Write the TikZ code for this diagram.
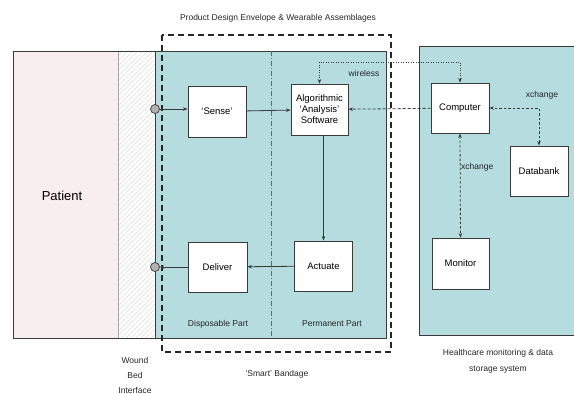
\documentclass[tikz,border=0pt]{standalone}
\usepackage{fontspec}
\setmainfont{Liberation Sans}
\usetikzlibrary{arrows.meta}
\definecolor{teal1}{HTML}{B5DCDF}
\definecolor{pink1}{HTML}{F8EDEF}
\definecolor{edge}{HTML}{3A3A3A}
\tikzset{
  box/.style={draw=edge, line width=0.9pt, fill=white, inner sep=0pt, align=center, font=\fontsize{9.5}{11}\selectfont},
  arr/.style={-{Stealth[length=4.5pt,width=3.5pt]}, line width=0.8pt, draw=edge},
  darr/.style={{Stealth[length=4.5pt,width=3.5pt]}-{Stealth[length=4.5pt,width=3.5pt]}, line width=0.8pt, draw=edge, dash pattern=on 2.5pt off 2pt},
  warr/.style={{Stealth[length=4.5pt,width=3.5pt]}-{Stealth[length=4.5pt,width=3.5pt]}, line width=0.8pt, draw=edge, dash pattern=on 1.2pt off 1.3pt},
  lbl/.style={font=\fontsize{8.5}{10}\selectfont, text=black!85, inner sep=1pt},
  port/.style={circle, draw=edge, fill=gray!60, minimum size=9pt, inner sep=0pt, line width=0.7pt},
}
\begin{document}
\begin{tikzpicture}[x=1pt,y=-1pt]
\useasboundingbox (0,0) rectangle (574,394);
% left panel
\fill[pink1] (13,51) rectangle (118,338);
\fill[white] (118,51) rectangle (155,338);
\begin{scope}
\clip (118,51) rectangle (155,338);
\foreach \i in {0,5,...,340} {\draw[gray!45, line width=0.3pt] (118,51+\i) -- (155,14+\i);}
\end{scope}
\fill[teal1] (155,51) rectangle (386,338);
\draw[gray!70, line width=0.4pt] (118,51) -- (118,338);
\draw[edge, line width=0.9pt] (155,51) -- (155,338);
\draw[edge, line width=0.9pt] (13,51) rectangle (386,338);
\draw[gray!80!black, line width=0.5pt, dash pattern=on 5pt off 2pt on 1pt off 2pt] (271,51) -- (271,338);
% right panel
\fill[teal1] (419,46) rectangle (580,335);
\draw[edge, line width=0.9pt] (580,46) -- (419,46) -- (419,335) -- (580,335);
% envelope
\draw[black!85, line width=1.3pt, dash pattern=on 6pt off 4pt] (162,35) rectangle (391,352);
% nodes
\node[box, minimum width=58pt, minimum height=51pt] (sense) at (217,111.5) {`Sense'};
\node[box, minimum width=57pt, minimum height=51pt] (algo) at (319.5,109.5) {Algorithmic\\`Analysis'\\Software};
\node[box, minimum width=58pt, minimum height=50pt] (comp) at (460,108) {Computer};
\node[box, minimum width=58pt, minimum height=50pt] (db) at (539,171) {Databank};
\node[box, minimum width=57pt, minimum height=51pt] (mon) at (460.5,263.5) {Monitor};
\node[box, minimum width=59pt, minimum height=50pt] (del) at (217.5,267) {Deliver};
\node[box, minimum width=58pt, minimum height=50pt] (act) at (323.5,266) {Actuate};
\node[port] (c1) at (155,109) {};
\node[port] (c2) at (155,267) {};
\coordinate (wy) at (0,62);
% connectors
\draw[arr] (c1) -- (sense.west |- c1);
\draw[arr] (sense) -- (algo);
\draw[arr] (act.north |- algo.south) -- (act.north);
\draw[arr] (act) -- (del);
\draw[arr] (del) -- (c2);
\draw[warr] (algo.north) -- (algo.north |- wy) -- (comp.north |- wy) -- (comp.north);
\draw[-{Stealth[length=4.5pt,width=3.5pt]}, line width=0.8pt, draw=edge, dash pattern=on 3pt off 2pt] (comp) -- (algo);
\draw[darr] (db.north) |- (comp.east);
\draw[darr] (comp.south) -- (mon.north);
% labels
\node[lbl] (t1) at (278,18) {Product Design Envelope \& Wearable Assemblages};
\node[lbl] (t2) at (364,73) {wireless};
\node[lbl] (t3) at (542,95) {xchange};
\node[lbl, anchor=west] (t4) at (460,167) {xchange};
\node[font=\fontsize{13}{15}\selectfont] (pat) at (62,196) {Patient};
\node[lbl] (t5) at (218,324) {Disposable Part};
\node[lbl] (t6) at (332,324) {Permanent Part};
\node[lbl, align=center, font=\fontsize{8.5}{15}\selectfont] (t7) at (135,375) {Wound\\Bed\\Interface};
\node[lbl] (t8) at (277,374) {`Smart' Bandage};
\node[lbl, align=center, font=\fontsize{8.5}{16}\selectfont] (t9) at (498,361) {Healthcare monitoring \& data\\storage system};
\end{tikzpicture}
\end{document}
